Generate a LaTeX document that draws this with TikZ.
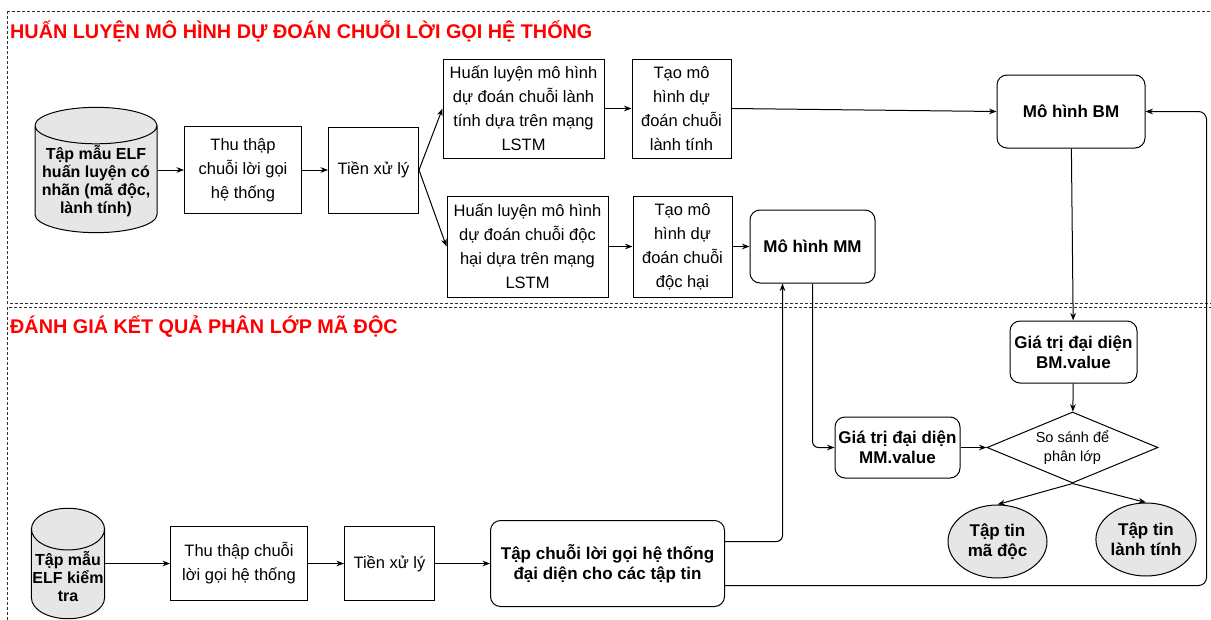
\documentclass[tikz,border=0pt]{standalone}
\usepackage{fontspec}
\setmainfont{Liberation Sans}
\usetikzlibrary{positioning, arrows.meta, shapes.geometric}
\definecolor{heading}{HTML}{FF0000}
\definecolor{store}{HTML}{E6E6E6}
\definecolor{frame}{HTML}{333333}

\begin{document}
\begin{tikzpicture}[
    x=1pt, y=1pt,
    node distance=26pt,
    box/.style={rectangle, draw, line width=1pt, align=center, inner sep=2pt,
                font=\fontsize{16.5}{24}\selectfont},
    rbox/.style={box, rounded corners=10pt, font=\bfseries\fontsize{17}{20}\selectfont},
    db/.style={cylinder, shape border rotate=90, draw, line width=1pt, fill=store,
               anchor=shape center, align=center, inner sep=1pt,
               font=\bfseries\fontsize{16}{18}\selectfont},
    leaf/.style={ellipse, draw, line width=1pt, fill=store, align=center, inner sep=0pt,
                 minimum width=99pt, minimum height=73pt,
                 font=\bfseries\fontsize{17}{20}\selectfont},
    test/.style={diamond, draw, line width=1pt, align=center, inner sep=0pt, aspect=2.4,
                 minimum width=171pt, minimum height=71pt,
                 font=\fontsize{14.5}{19}\selectfont},
    arr/.style={-Stealth, line width=1pt},
    sec/.style={draw=frame, dash pattern=on 3pt off 2pt, line width=0.8pt},
    title/.style={anchor=west, text=heading, inner sep=0pt,
                  font=\bfseries\fontsize{19.8}{24}\selectfont}
  ]
    \useasboundingbox (0,0) rectangle (1211,-619);
    \draw[sec] (7,-11) rectangle (1214,-303);
    \draw[sec] (7,-307) rectangle (1214,-625);
    \node[title] (t1) at (10,-31) {HUẤN LUYỆN MÔ HÌNH DỰ ĐOÁN CHUỖI LỜI GỌI HỆ THỐNG};
    \node[title] (t2) at (10,-327) {ĐÁNH GIÁ KẾT QUẢ PHÂN LỚP MÃ ĐỘC};

    % training part
    \node[db, aspect=0.33, minimum width=122pt, minimum height=112pt] (trainset) at (96,-170)
      {Tập mẫu ELF\\huấn luyện có\\nhãn (mã độc,\\lành tính)};
    \node[box, minimum width=117pt, minimum height=87pt, right=88pt of trainset.shape center] (collect)
      {Thu thập\\chuỗi lời gọi\\hệ thống};
    \node[box, minimum width=90pt, minimum height=86pt, right=of collect] (prep) {Tiền xử lý};
    \node[box, minimum width=161pt, minimum height=99pt] (trainbn) at (523.5,-108.5)
      {Huấn luyện mô hình\\dự đoán chuỗi lành\\tính dựa trên mạng\\LSTM};
    \node[box, minimum width=99pt, minimum height=99pt, right=27pt of trainbn] (makebn)
      {Tạo mô\\hình dự\\đoán chuỗi\\lành tính};
    \node[box, minimum width=161pt, minimum height=101pt, below=37pt of trainbn, xshift=4pt] (trainmal)
      {Huấn luyện mô hình\\dự đoán chuỗi độc\\hại dựa trên mạng\\LSTM};
    \node[box, minimum width=99pt, minimum height=101pt, right=24pt of trainmal] (makemal)
      {Tạo mô\\hình dự\\đoán chuỗi\\độc hại};
    \node[rbox, minimum width=125pt, minimum height=73pt, right=17pt of makemal] (mm) {Mô hình MM};
    \node[rbox, minimum width=148pt, minimum height=73pt] (bm) at (1071,-111.5) {Mô hình BM};

    % evaluation part
    \node[rbox, minimum width=127pt, minimum height=62pt, below=172pt of bm, xshift=2.5pt] (bmval)
      {Giá trị đại diện\\BM.value};
    \node[test, below=28pt of bmval, xshift=-1pt] (cmp) {So sánh để\\phân lớp};
    \node[rbox, minimum width=125pt, minimum height=61pt, left=of cmp] (mmval)
      {Giá trị đại diện\\MM.value};
    \node[leaf] (mal) at (997.5,-541.5) {Tập tin\\mã độc};
    \node[leaf] (ben) at (1146,-539.5) {Tập tin\\lành tính};
    \node[db, aspect=0.57, minimum width=70pt, minimum height=88pt] (testset) at (68,-563.5)
      {Tập mẫu\\ELF kiểm\\tra};
    \node[box, minimum width=137pt, minimum height=74pt, right=102pt of testset.shape center] (collect2)
      {Thu thập chuỗi\\lời gọi hệ thống};
    \node[box, minimum width=90pt, minimum height=74pt, right=36pt of collect2] (prep2) {Tiền xử lý};
    \node[rbox, minimum width=234pt, minimum height=86pt, right=55pt of prep2] (seqset)
      {Tập chuỗi lời gọi hệ thống\\đại diện cho các tập tin};

    \draw[arr] (trainset.east |- collect.west) -- (collect.west);
    \draw[arr] (collect) -- (prep);
    \draw[arr] (prep.east) -- (trainbn.west);
    \draw[arr] (prep.east) -- (trainmal.west);
    \draw[arr] (trainbn) -- (makebn);
    \draw[arr] (trainmal) -- (makemal);
    \draw[arr] (makebn.east) -- (bm.west);
    \draw[arr] (makemal) -- (mm);
    \draw[arr] (bm) -- (bmval);
    \draw[arr] (bmval) -- (cmp);
    \draw[arr, rounded corners=6pt] (mm.south) |- (mmval.west);
    \draw[arr] (mmval) -- (cmp);
    \draw[arr] (cmp.south) -- (mal.north);
    \draw[arr] (cmp.south) -- (ben.north);
    \draw[arr] (testset.east |- collect2.west) -- (collect2.west);
    \draw[arr] (collect2) -- (prep2);
    \draw[arr] (prep2) -- (seqset);
    \draw[arr, rounded corners=6pt] ([yshift=22pt]seqset.east) -| ([xshift=-30pt]mm.south);
    \draw[arr, rounded corners=8pt] ([yshift=-22pt]seqset.east) -| ([xshift=61pt]bm.east) -- (bm.east);
  \end{tikzpicture}
\end{document}
